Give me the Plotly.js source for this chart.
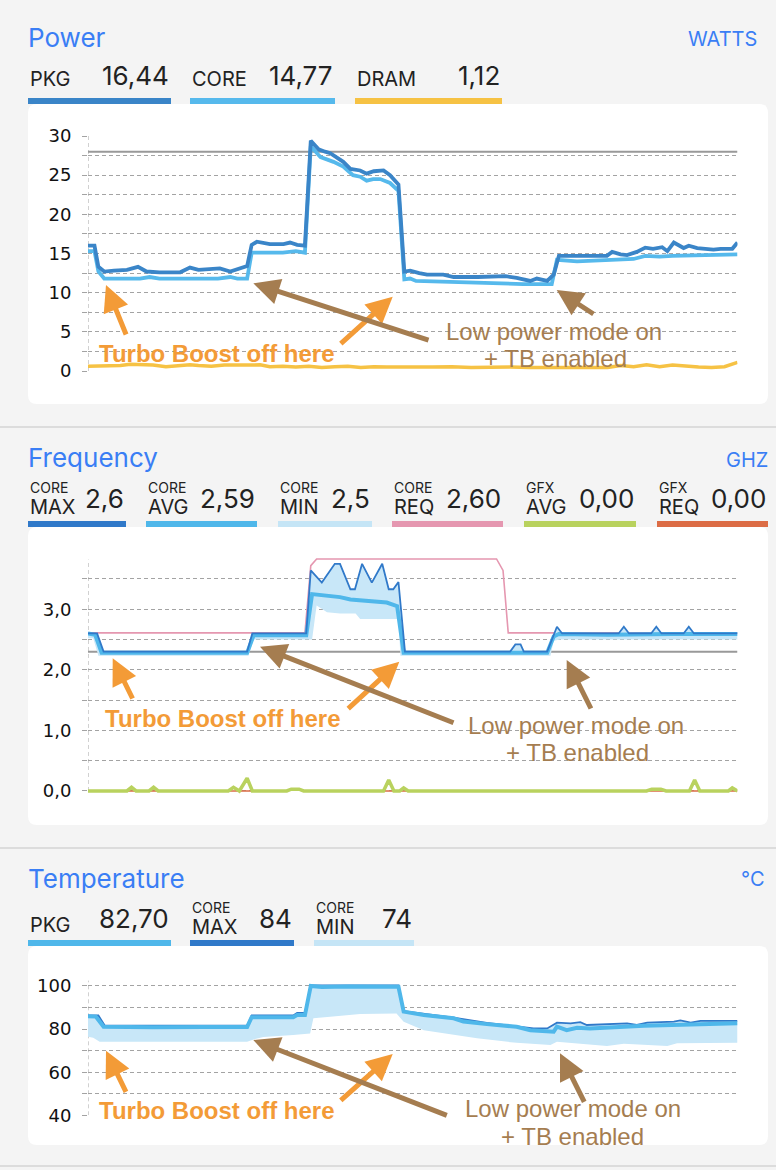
<!DOCTYPE html>
<html><head><meta charset="utf-8">
<script src="https://cdn.plot.ly/plotly-3.0.1.min.js"></script>
<style>html,body{margin:0;padding:0;background:#f4f4f4;}#chart{width:776px;height:1170px;}</style>
</head><body><div id="chart"></div>
<script>
// ---------------- DATA ----------------
// Power (W), x = sample time index
const powerPkgT = [0,1,1.6,2.5,4,6,7.7,9,11,14.2,15.7,17,20.3,21.9,24.5,25.2,26,28,30.1,31.1,32.2,33.4,34.3,35.5,36.5,37.3,39.3,40.4,41.9,42.9,44,45.5,46.5,47.8,48.7,49.6,51,52.2,54.7,56.3,60,62.9,64.3,66,68.1,69.1,70.7,71.7,72.5,76,79.9,80.7,82,83,84.5,85.8,87,88.4,89.2,90.2,91.7,92.5,93.8,96.3,97.4,99.2,100];
const powerPkgV = [16.0,16.0,13.3,12.7,12.8,12.9,13.3,12.7,12.6,12.6,13.2,12.9,13.1,12.7,13.4,16.1,16.5,16.2,16.2,16.4,16.1,16.0,29.4,28.3,28.0,27.8,26.7,25.8,25.6,25.2,25.5,25.6,25.0,23.8,12.7,12.8,12.5,12.3,12.3,12.0,12.0,12.0,12.1,11.9,11.5,11.8,11.5,12.3,14.7,14.7,14.7,15.2,14.9,14.8,15.2,15.75,15.6,15.8,15.3,16.4,15.7,16.0,15.7,15.5,15.6,15.6,16.4];
const powerCoreT = [0,1,1.6,2.5,8,9.5,11,20,21.9,23,24.5,25.2,30,32,33.4,34.3,35.8,37.8,39.3,40.8,41.9,42.9,43.9,45,46.5,47.8,48.7,49.6,50.5,54.3,59.3,67,71.4,72.2,75.3,79.9,84,85.8,88,90,100];
const powerCoreV = [15.3,15.3,12.7,11.8,11.8,12.0,11.8,11.8,12.0,11.8,11.8,15.1,15.1,15.3,15.1,28.7,27.3,26.7,26.1,25.0,24.8,24.3,24.5,24.5,24.0,23.0,11.7,11.8,11.5,11.4,11.2,11.1,11.1,14.2,14.0,14.2,14.3,14.7,14.6,14.7,14.9];
const powerDramT = [0,3,5,6.5,8,10,12,14,15.7,17,19,21,23,25,26.5,28,30,32,34,36,38,40,42,44,46,48,50,53,56,59,62,65,68,71,74,77,80,82,84,86,88,90,92,94,96,98,100];
const powerDramV = [0.6,0.6,0.7,0.85,0.8,0.75,0.55,0.65,0.8,0.7,0.6,0.75,0.7,0.75,0.8,0.55,0.6,0.5,0.6,0.45,0.55,0.6,0.45,0.55,0.5,0.55,0.5,0.5,0.55,0.45,0.5,0.5,0.45,0.45,0.5,0.45,0.45,0.7,0.55,0.8,0.55,0.75,0.6,0.5,0.45,0.55,1.1];
const powerLimit = 28;

// Frequency (GHz)
const freqReqT = [0,33.4,34.3,35.2,62.9,63.9,64.7,100];
const freqReqV = [2.61,2.61,3.72,3.83,3.83,3.64,2.61,2.61];
const freqMaxT = [0,1.4,2.4,24.5,25.3,33.6,34.3,36,38,38.8,40.4,41.1,42.2,43.7,45.3,46.3,47.0,47.8,48.8,65,65.8,66.6,67.1,70.7,72.2,73,81.7,82.5,83.3,86.7,87.5,88.3,91.7,92.5,93.3,100];
const freqMaxV = [2.6,2.6,2.3,2.3,2.6,2.6,3.64,3.44,3.75,3.75,3.33,3.33,3.75,3.44,3.75,3.33,3.33,3.45,2.3,2.3,2.42,2.42,2.3,2.3,2.71,2.6,2.6,2.71,2.6,2.6,2.71,2.6,2.6,2.71,2.6,2.6];
const freqAvgT = [0,1.1,2.1,24.5,25.5,33.6,34.5,36.3,38.8,40.4,43.5,46,47.6,48.6,70.7,71.7,72.5,80,90,100];
const freqAvgV = [2.6,2.58,2.28,2.28,2.57,2.57,3.25,3.23,3.2,3.16,3.14,3.11,3.05,2.28,2.28,2.55,2.59,2.58,2.59,2.59];
const freqMinT = [0,0.8,1.6,24.7,25.5,34.5,35.2,36.8,38.8,41.2,41.9,44.5,46.5,47.8,48.1,71.2,71.7,72.7,100];
const freqMinV = [2.52,2.52,2.23,2.23,2.5,2.5,3.06,2.95,2.93,2.93,2.84,2.84,2.84,2.84,2.23,2.23,2.48,2.5,2.5];
const gfxAvgT = [0,6.0,6.7,7.4,9.4,10.1,10.8,21.6,22.4,23.3,24.5,25.3,30.6,31.3,32.5,33.2,45.5,46.3,47.1,48.0,48.6,49.3,86.0,86.8,88.2,89.0,92.6,93.4,94.2,98.6,99.2,100];
const gfxAvgV = [0,0,0.06,0,0,0.06,0,0,0.06,0,0.21,0,0,0.03,0.03,0,0,0.18,0,0,0.05,0,0,0.03,0.03,0,0,0.18,0,0,0.05,0];
const gfxReqT = [0,30.5,31.3,32.4,33.2,100];
const gfxReqV = [0,0,0.02,0.02,0,0];
const baseFreq = 2.3;

// Temperature (°C)
const tempPkgT = [0,1.2,2.4,10,18,24.5,25.2,31.6,32.2,33.4,34.3,36,40,44,47.8,48.6,51.7,56.3,57.8,61.4,66,68.1,71.7,72.2,73.7,75.3,77.3,85.6,90.2,95,100];
const tempPkgV = [86.0,85.8,81.1,80.8,81.0,81.0,85.5,85.5,86.5,86.5,100,99.5,99.8,99.6,99.6,88.1,86.5,85.0,83.5,82.3,81.1,79.5,78.8,81.1,79.5,80.6,80.3,81.5,82.0,82.2,82.7];
const tempMaxT = [0,1.6,2.6,24.5,25.2,31.6,32.2,33.4,34.3,47.8,48.6,56.3,61.4,68.6,70.7,72.2,74.3,75.8,76.8,83,84.5,86.1,90.2,91.2,92.8,94.3,100];
const tempMaxV = [86.3,86.3,81.6,81.6,86.3,86.3,87.5,87.5,100.3,100.3,88.3,85.3,82.9,80.3,80.3,83.0,82.6,83.2,81.9,82.6,81.9,83.0,83.5,84.0,83.0,83.8,83.8];
const tempMinT = [0,0.8,1.8,24.5,25.5,27,31.6,34.2,34.7,36.8,38.8,41.9,47.5,48.6,51.7,56.3,59.9,66,71.2,72.2,75.3,79.9,82.5,89.2,90.7,100];
const tempMinV = [76.4,76.0,74.1,74.1,75.2,76.3,77.2,78.0,85.0,85.6,86.0,87.0,87.2,83.4,79.5,77.2,75.7,73.6,72.6,74.1,73.4,72.1,73.2,72.1,73.4,73.6];

// Header texts
const sectionTitles = ['Power','Frequency','Temperature'];
const sectionUnits = ['WATTS','GHZ','°C'];
const powerLegendTop = ['','',''];
const powerLegendLabels = ['PKG','CORE','DRAM'];
const powerLegendValues = ['16,44','14,77','1,12'];
const freqLegendTop = ['CORE','CORE','CORE','CORE','GFX','GFX'];
const freqLegendLabels = ['MAX','AVG','MIN','REQ','AVG','REQ'];
const freqLegendValues = ['2,6','2,59','2,5','2,60','0,00','0,00'];
const tempLegendTop = ['','CORE','CORE'];
const tempLegendLabels = ['PKG','MAX','MIN'];
const tempLegendValues = ['82,70','84','74'];
const noteTurbo = 'Turbo Boost off here';
const noteLow1 = 'Low power mode on';
const noteLow2 = '+ TB enabled';

// ---------------- STYLE / LAYOUT ----------------
const W = 776, H = 1170;
const px = x => x / W;
const py = y => 1 - y / H;
const C = {pkg:'#3a85c8', core:'#56b9ec', dram:'#f6c244', max:'#3079c9', avg:'#4fb7ea', min:'#c5e5f6',
  fill:'#c8e7f8', req:'#e597b0', gfxAvg:'#b9d25e', gfxReq:'#dc6c45', title:'#3a7ef5', text:'#222222',
  orange:'#f39b37', brown:'#a57d50', grid:'#a3a3a3', ref:'#999999'};
const UI = 'Inter, Roboto, sans-serif';
const xDom = [px(88), px(737.5)];

function line(x, y, xa, ya, color, width, extra) {
  return Object.assign({type:'scatter', mode:'lines', x:x, y:y, xaxis:xa, yaxis:ya,
    line:{color:color, width:width, shape:'linear'}, hoverinfo:'skip', showlegend:false}, extra || {});
}

const traces = [
  line(powerDramT, powerDramV, 'x', 'y', C.dram, 3.5),
  line(powerCoreT, powerCoreV, 'x', 'y', C.core, 3.8),
  line(powerPkgT, powerPkgV, 'x', 'y', C.pkg, 3.8),

  line(gfxReqT, gfxReqV, 'x2', 'y2', C.gfxReq, 1.5),
  line(gfxAvgT, gfxAvgV, 'x2', 'y2', C.gfxAvg, 3.5),
  line(freqReqT, freqReqV, 'x2', 'y2', C.req, 1.6),
  line(freqMinT, freqMinV, 'x2', 'y2', C.min, 0),
  line(freqMaxT, freqMaxV, 'x2', 'y2', C.fill, 0, {fill:'tonexty', fillcolor:C.fill}),
  line(freqAvgT, freqAvgV, 'x2', 'y2', C.avg, 4),
  line(freqMaxT, freqMaxV, 'x2', 'y2', C.max, 1.8),

  line(tempMinT, tempMinV, 'x3', 'y3', C.min, 0),
  line(tempMaxT, tempMaxV, 'x3', 'y3', C.fill, 0, {fill:'tonexty', fillcolor:C.fill}),
  line(tempMaxT, tempMaxV, 'x3', 'y3', C.max, 1.8),
  line(tempPkgT, tempPkgV, 'x3', 'y3', C.avg, 4),
];

function xAx(anchor) {
  return {domain:xDom, range:[0,100], visible:false, anchor:anchor, fixedrange:true};
}
function yAx(anchor, domain, range, dtick, minorDtick, fmt) {
  return {domain:domain, range:range, anchor:anchor, dtick:dtick, tick0:0, tickformat:fmt,
    showgrid:true, gridcolor:C.grid, gridwidth:1, griddash:'4px,3px', zeroline:false, showline:false,
    ticks:'outside', ticklen:5, tickcolor:C.grid, tickwidth:1, ticklabelstandoff:7,
    tickfont:{family:'DejaVu Sans', size:18, color:'#111'},
    minor:{dtick:minorDtick, tick0:0, showgrid:true, gridcolor:C.grid, gridwidth:1, griddash:'4px,3px',
      ticks:'outside', ticklen:5, tickcolor:C.grid}, fixedrange:true};
}

function roundRect(x0, y0, x1, y1, r, color) {
  const rx = r / W, ry = r / H;
  const X0 = px(x0), X1 = px(x1), Y0 = py(y0), Y1 = py(y1);
  const p = `M${X0+rx},${Y0} L${X1-rx},${Y0} Q${X1},${Y0} ${X1},${Y0-ry} L${X1},${Y1+ry} Q${X1},${Y1} ${X1-rx},${Y1} L${X0+rx},${Y1} Q${X0},${Y1} ${X0},${Y1+ry} L${X0},${Y0-ry} Q${X0},${Y0} ${X0+rx},${Y0} Z`;
  return {type:'path', xref:'paper', yref:'paper', path:p, fillcolor:color, line:{width:0}, layer:'below'};
}
function prect(x0, y0, x1, y1, color) {
  return {type:'rect', xref:'paper', yref:'paper', x0:px(x0), x1:px(x1), y0:py(y0), y1:py(y1),
    fillcolor:color, line:{width:0}, layer:'below'};
}

const shapes = [
  roundRect(28, 104, 768, 404, 9, '#ffffff'),
  roundRect(28, 527, 768, 825, 9, '#ffffff'),
  roundRect(28, 946, 768, 1145, 9, '#ffffff'),
  prect(0, 426, 776, 428, '#dcdcdc'),
  prect(0, 847, 776, 849, '#dcdcdc'),
  prect(0, 1165, 776, 1167, '#dcdcdc'),
  // dashed left axis lines
  {type:'line', xref:'x', yref:'y', x0:0, x1:0, y0:0, y1:30, line:{color:C.grid, width:1, dash:'4px,3px'}, layer:'between'},
  {type:'line', xref:'x2', yref:'y2', x0:0, x1:0, y0:0, y1:3.82, line:{color:C.grid, width:1, dash:'4px,3px'}, layer:'between'},
  {type:'line', xref:'x3', yref:'y3', x0:0, x1:0, y0:40, y1:102.5, line:{color:C.grid, width:1, dash:'4px,3px'}, layer:'between'},
  // reference lines
  {type:'line', xref:'x', yref:'y', x0:0, x1:100, y0:powerLimit, y1:powerLimit, line:{color:C.ref, width:2}, layer:'between'},
  {type:'line', xref:'x2', yref:'y2', x0:0, x1:100, y0:baseFreq, y1:baseFreq, line:{color:C.ref, width:2}, layer:'between'},
];

const annotations = [];
function txt(text, x, y, size, color, anchor, extra) {
  annotations.push(Object.assign({xref:'paper', yref:'paper', x:px(x), y:py(y), text:text, showarrow:false,
    xanchor:anchor, yanchor:'middle', font:{family:UI, size:size, color:color}}, extra || {}));
}
function arrow(hx, hy, tx, ty, color) {
  annotations.push({xref:'paper', yref:'paper', x:px(hx), y:py(hy), ax:tx-hx, ay:ty-hy, axref:'pixel', ayref:'pixel',
    text:'', showarrow:true, arrowhead:2, arrowsize:1.05, arrowwidth:5, arrowcolor:color, standoff:0, startstandoff:0});
}

// Section headers
const titleY = [37, 458, 878];
const unitX = [759, 770, 767];
const unitY = [39, 460, 879];
sectionTitles.forEach((t, i) => {
  txt(t, 26, titleY[i], 26, C.title, 'left');
  txt(sectionUnits[i], unitX[i], unitY[i], 20, C.title, 'right');
});

// Legend slots
function legendRow(tops, labels, values, slots, yTop, yLab, yVal, yBar, colors) {
  labels.forEach((lab, i) => {
    const s = slots[i];
    if (tops[i]) {
      txt(tops[i], s[0], yTop, 14, C.text, 'left');
      txt(lab, s[0], yLab, 20, C.text, 'left');
    } else {
      txt(lab, s[0], yLab - 2, 20, C.text, 'left');
    }
    txt(values[i], s[1], yVal, 26, C.text, 'right');
    shapes.push(prect(s[0], yBar, s[1], yBar + 6, colors[i]));
  });
}
legendRow(powerLegendTop, powerLegendLabels, powerLegendValues,
  [[28,171],[190,335],[355,502]], 0, 81, 76, 98, [C.pkg, C.core, C.dram]);
legendRow(freqLegendTop, freqLegendLabels, freqLegendValues,
  [[28,126],[146,257],[278,372],[392,503],[524,636],[657,768]], 487, 507, 498, 521,
  [C.max, C.avg, C.min, C.req, C.gfxAvg, C.gfxReq]);
legendRow(tempLegendTop, tempLegendLabels, tempLegendValues,
  [[28,171],[190,294],[314,414]], 907, 927, 918, 940, [C.avg, C.max, C.min]);

// Notes
const NF = 'Liberation Sans, Arial, sans-serif';
function notes(turbo, low1, low2, arrows) {
  txt(noteTurbo, turbo[0], turbo[1], 24, C.orange, 'center', {font:{family:NF, size:24, color:C.orange, weight:'bold'}});
  txt(noteLow1, low1[0], low1[1], 24, C.brown, 'center', {font:{family:NF, size:24, color:C.brown}});
  txt(noteLow2, low2[0], low2[1], 24, C.brown, 'center', {font:{family:NF, size:24, color:C.brown}});
  arrows.forEach(a => arrow(a[0], a[1], a[2], a[3], a[4]));
}
notes([216.5, 353], [554, 331], [555, 358], [
  [106, 285, 126.7, 336, C.orange], [392.7, 296.7, 339.3, 345, C.orange],
  [253.3, 283.3, 430, 340.7, C.brown], [556.7, 290, 595, 315, C.brown]]);
notes([223, 718.3], [576, 725], [577, 752.7], [
  [112.7, 658.3, 133.3, 700, C.orange], [399.3, 661.7, 346.7, 710, C.orange],
  [260, 646.7, 455, 723.3, C.brown], [566.7, 660, 591.7, 710, C.brown]]);
notes([216.5, 1110.7], [572.5, 1108.3], [572.5, 1136], [
  [106, 1050.7, 126.7, 1093.3, C.orange], [392.7, 1054, 339.3, 1101.7, C.orange],
  [253.3, 1040, 448.3, 1116, C.brown], [560, 1053.3, 585, 1103.3, C.brown]]);

const layout = {
  width:W, height:H, margin:{l:0, r:0, t:0, b:0}, autosize:false,
  paper_bgcolor:'#f4f4f4', plot_bgcolor:'rgba(0,0,0,0)', showlegend:false, separators:',.',
  xaxis:xAx('y'), xaxis2:xAx('y2'), xaxis3:xAx('y3'),
  yaxis:yAx('x', [py(371), py(136)], [0,30], 5, 2.5, 'd'),
  yaxis2:yAx('x2', [py(794), py(554.7)], [-0.05,3.9], 1, 0.5, '.1f'),
  yaxis3:yAx('x3', [py(1115.3), py(979.5)], [40,103], 20, 10, 'd'),
  shapes:shapes, annotations:annotations,
};
Plotly.newPlot('chart', traces, layout, {displayModeBar:false, staticPlot:true});
</script></body></html>
